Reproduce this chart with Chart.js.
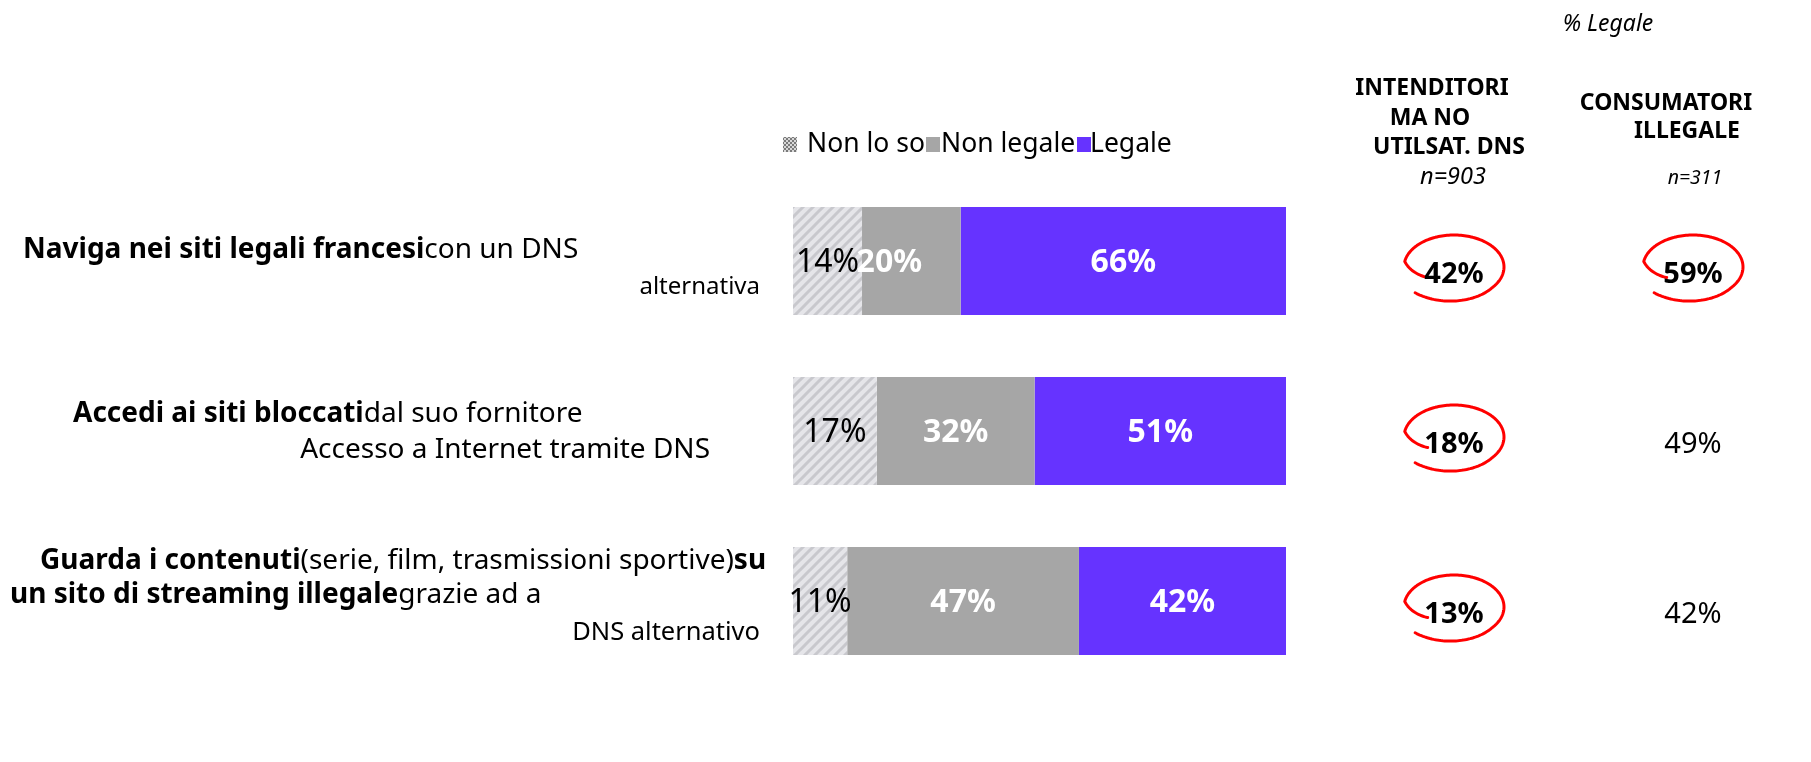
<!DOCTYPE html>
<html>
<head>
<meta charset="utf-8">
<script src="https://cdn.jsdelivr.net/npm/chart.js@4"></script>
<style>
  html, body { margin: 0; padding: 0; background: #fff; }
  #wrap { width: 1811px; height: 762px; position: relative; }
</style>
</head>
<body>
<div id="wrap"><canvas id="chart"></canvas></div>
<script>
// ---- data ----
const seriesNames = ['Non lo so', 'Non legale', 'Legale'];
const nonLoSo = [14, 17, 11];
const nonLegale = [20, 32, 47];
const legale = [66, 51, 42];

const categories = [
  'Naviga nei siti legali francesi con un DNS alternativa',
  'Accedi ai siti bloccati dal suo fornitore Accesso a Internet tramite DNS',
  'Guarda i contenuti (serie, film, trasmissioni sportive) su un sito di streaming illegale grazie ad a DNS alternativo'
];
// same labels split in lines, [text, bold]
const categoryLines = [
  [[['Naviga nei siti legali francesi', true], ['con un DNS', false]],
   [['alternativa', false]]],
  [[['Accedi ai siti bloccati', true], ['dal suo fornitore', false]],
   [['Accesso a Internet tramite DNS', false]]],
  [[['Guarda i contenuti', true], ['(serie, film, trasmissioni sportive)', false], ['su', true]],
   [['un sito di streaming illegale', true], ['grazie ad a', false]],
   [['DNS alternativo', false]]]
];

const headerTitle = '% Legale';
const colHeaders = [['INTENDITORI', 'MA NO', 'UTILSAT. DNS'], ['CONSUMATORI', 'ILLEGALE']];
const colSamples = ['n=903', 'n=311'];
const intenditori = [42, 18, 13];
const consumatori = [59, 49, 42];
const intenditoriCircled = [true, true, true];
const consumatoriCircled = [true, false, false];

// ---- layout / style ----
const FONT = '"Noto Sans", "Open Sans", sans-serif';
const PURPLE = '#6633FF';
const GREY = '#A6A6A6';
// per line: offset from bar centre, anchor x, alignment, font size
const labelLayout = [
  [{ dy: -3, x: 23, align: 'left', size: 28 }, { dy: 33, x: 760, align: 'right', size: 24 }],
  [{ dy: -9, x: 73, align: 'left', size: 28 }, { dy: 27, x: 710, align: 'right', size: 28 }],
  [{ dy: -32, x: 40, align: 'left', size: 28 }, { dy: 2, x: 10, align: 'left', size: 28 },
   { dy: 39, x: 760, align: 'right', size: 25.5 }]
];
const colX = [1454, 1693];
const headerLayout = [
  [{ x: 1432, y: 95 }, { x: 1430, y: 125 }, { x: 1449, y: 154 }],
  [{ x: 1666, y: 110 }, { x: 1687, y: 138 }]
];
const sampleLayout = [{ x: 1453, y: 184, size: 23.5 }, { x: 1695, y: 184, size: 19.5 }];
const legendLayout = [{ box: 783, text: 807 }, { box: 926, text: 941 }, { box: 1077, text: 1090 }];
// the small "20%" label sits pushed to the left in the original
const barLabelShift = { '1-0': -22 };

function makeHatch() {
  const c = document.createElement('canvas');
  c.width = 10; c.height = 10;
  const g = c.getContext('2d');
  g.fillStyle = '#e5e5e9';
  g.fillRect(0, 0, 10, 10);
  g.strokeStyle = '#c8c8cd';
  g.lineWidth = 3;
  g.beginPath();
  g.moveTo(-2, 12); g.lineTo(12, -2);
  g.moveTo(-2, 2); g.lineTo(2, -2);
  g.moveTo(8, 12); g.lineTo(12, 8);
  g.stroke();
  return g.createPattern(c, 'repeat');
}

function makeChecker() {
  const c = document.createElement('canvas');
  c.width = 4; c.height = 4;
  const g = c.getContext('2d');
  g.fillStyle = '#d8d8d8'; g.fillRect(0, 0, 4, 4);
  g.fillStyle = '#7a7a7a';
  g.fillRect(0, 0, 2, 2); g.fillRect(2, 2, 2, 2);
  return g.createPattern(c, 'repeat');
}

const hatch = makeHatch();
const checker = makeChecker();

function drawLoop(ctx, cx, cy) {
  const rx = 50, ry = 32, a0 = 148, a1 = 495;
  ctx.save();
  ctx.strokeStyle = '#ff0000';
  ctx.lineWidth = 3;
  ctx.lineCap = 'round';
  ctx.lineJoin = 'round';
  ctx.beginPath();
  for (let a = a0; a <= a1; a += 2) {
    let k = 1;
    if (a < 190) k = 0.62 + 0.38 * (a - a0) / (190 - a0);
    else if (a > 400) k = 1 + 0.12 * (a - 400) / (a1 - 400);
    const r = a * Math.PI / 180;
    const x = cx + rx * k * Math.cos(r);
    const y = cy + ry * k * Math.sin(r);
    if (a === a0) ctx.moveTo(x, y); else ctx.lineTo(x, y);
  }
  ctx.stroke();
  ctx.restore();
}

function drawSegments(ctx, segs, x, y, align, size) {
  const fonts = segs.map(s => (s[1] ? 'bold ' : '') + size + 'px ' + FONT);
  const widths = segs.map((s, i) => { ctx.font = fonts[i]; return ctx.measureText(s[0]).width; });
  let cur = align === 'right' ? x - widths.reduce((a, b) => a + b, 0) : x;
  segs.forEach((s, i) => {
    ctx.font = fonts[i];
    ctx.fillText(s[0], cur, y);
    cur += widths[i];
  });
}

const decorPlugin = {
  id: 'decor',
  afterDatasetsDraw(chart) {
    const ctx = chart.ctx;
    const yScale = chart.scales.y;
    ctx.save();
    ctx.textBaseline = 'alphabetic';

    // values inside the bars
    chart.data.datasets.forEach((ds, di) => {
      const meta = chart.getDatasetMeta(di);
      meta.data.forEach((el, i) => {
        const cx = (el.x + el.base) / 2 + (barLabelShift[di + '-' + i] || 0);
        ctx.font = (di === 0 ? '' : 'bold ') + '32px ' + FONT;
        ctx.fillStyle = di === 0 ? '#000' : '#fff';
        ctx.textAlign = 'center';
        ctx.fillText(ds.data[i] + '%', cx, el.y + 11);
      });
    });

    // category labels
    ctx.fillStyle = '#000';
    ctx.textAlign = 'left';
    categoryLines.forEach((lines, i) => {
      const yc = yScale.getPixelForValue(i);
      lines.forEach((segs, li) => {
        const lay = labelLayout[i][li];
        drawSegments(ctx, segs, lay.x, yc + lay.dy, lay.align, lay.size);
      });
    });

    // legend
    seriesNames.forEach((name, i) => {
      const lay = legendLayout[i];
      ctx.fillStyle = [checker, GREY, PURPLE][i];
      ctx.fillRect(lay.box, 137, 14, 15);
      ctx.fillStyle = '#000';
      ctx.font = '26.5px ' + FONT;
      ctx.textAlign = 'left';
      ctx.fillText(name, lay.text, 152);
    });

    // headers of the right columns
    ctx.textAlign = 'center';
    ctx.font = 'italic 23px ' + FONT;
    ctx.fillText(headerTitle, 1608, 31);
    colHeaders.forEach((lines, c) => {
      ctx.font = 'bold 23px ' + FONT;
      lines.forEach((t, li) => ctx.fillText(t, headerLayout[c][li].x, headerLayout[c][li].y));
      const s = sampleLayout[c];
      ctx.font = 'italic ' + s.size + 'px ' + FONT;
      ctx.fillText(colSamples[c], s.x, s.y);
    });

    // right column values
    [[intenditori, intenditoriCircled], [consumatori, consumatoriCircled]].forEach(([vals, circled], c) => {
      vals.forEach((v, i) => {
        const yc = yScale.getPixelForValue(i);
        if (circled[i]) drawLoop(ctx, colX[c], yc + 6);
        ctx.fillStyle = '#000';
        ctx.font = (circled[i] ? 'bold ' : '') + '29px ' + FONT;
        ctx.textAlign = 'center';
        ctx.fillText(v + '%', colX[c], yc + 22);
      });
    });
    ctx.restore();
  }
};

new Chart(document.getElementById('chart'), {
  type: 'bar',
  data: {
    labels: categories,
    datasets: [
      { label: seriesNames[0], data: nonLoSo, backgroundColor: hatch },
      { label: seriesNames[1], data: nonLegale, backgroundColor: GREY },
      { label: seriesNames[2], data: legale, backgroundColor: PURPLE }
    ].map(d => Object.assign(d, { borderWidth: 0, barPercentage: 0.635, categoryPercentage: 1 }))
  },
  options: {
    indexAxis: 'y',
    responsive: true,
    maintainAspectRatio: false,
    animation: false,
    layout: { padding: { left: 793, right: 525, top: 176, bottom: 76 } },
    scales: {
      x: { stacked: true, min: 0, max: 100, display: false },
      y: { stacked: true, display: false }
    },
    plugins: { legend: { display: false }, tooltip: { enabled: false } }
  },
  plugins: [decorPlugin]
});
</script>
</body>
</html>
